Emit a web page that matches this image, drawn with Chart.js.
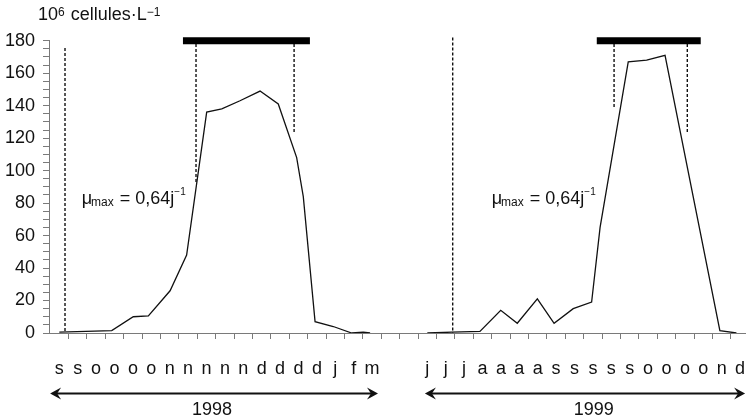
<!DOCTYPE html>
<html lang="fr">
<head>
<meta charset="UTF-8">
<title>Densité cellulaire 1998 - 1999</title>
<style>
  html, body { margin: 0; padding: 0; background: #fff; }
  canvas { display: block; }
</style>
</head>
<body>
<canvas id="chart" width="746" height="419"></canvas>
<script src="https://cdn.jsdelivr.net/npm/chart.js"></script>
<script>
const family = "'Liberation Sans', Arial, sans-serif";
const ink = '#111111';
const axisGrey = '#7a7a7a';

// x is measured in "letter" units along the bottom axis (one unit per month letter)
const months1998 = ['s','s','o','o','o','o','n','n','n','n','n','d','d','d','d','j','f','m'];
const monthPos1998 = [0, 1, 2, 3, 4, 5, 6, 7, 8, 9, 10, 11, 12, 13, 14, 15, 16, 17];
const months1999 = ['j','j','j','a','a','a','a','s','s','s','s','s','o','o','o','o','n','d'];
const monthPos1999 = [20, 21, 22, 23, 24, 25, 26, 27, 28, 29, 30, 31, 32, 33, 34, 35, 36, 37];

// cell counts (10^6 cells per litre)
const weeks1998 = [0, 1.45, 2.85, 4.02, 4.84, 6.02, 6.92, 8.01, 8.83, 9.82, 10.91, 11.9, 12.9, 13.26, 13.9, 14.89, 15.89, 16.52, 16.89];
const cells1998 = [0.5, 1, 1.5, 10, 10.5, 26, 48, 136, 138, 143, 149, 141, 108, 84, 7, 4, 0, 0.5, 0];
const weeks1999 = [20, 21.33, 22.86, 23.99, 24.89, 25.98, 26.89, 27.93, 28.93, 29.39, 30.92, 31.92, 32.92, 35.9, 36.8];
const cells1999 = [0, 0.5, 1, 14, 6, 21, 6, 15, 19, 65, 167, 168, 171, 1.5, 0];

// thick bars (bloom period) drawn at the top
const bloomStart = [6.72, 29.21];
const bloomEnd = [13.62, 34.86];
const bloomLevel = 180;

// dashed verticals
const dashX = [0.31, 7.43, 12.76, 21.38, 30.15, 34.13];
const dashTop = [175.5, 178, 178, 182, 178, 178];
const dashBottom = [1, 93, 123, 0, 139, 123];

// growth rate labels
const muX = [1.22, 23.5];
const muY = [79.3, 79.3];

// years under the axis
const years = ['1998', '1999'];
const yearCenter = [8.3, 29.05];
const arrowFrom = [-0.5, 19.87];
const arrowTo = [17.32, 37.27];

const yTicks = [];
for (let v = 0; v <= 180; v += 5) yTicks.push(v);
const tickMarks = [];
for (let v = 0.5; v < 37; v += 1) tickMarks.push(v);

const xMin = -0.56;
const xMax = 37.32;

function pts(xs, ys) {
    return xs.map((x, i) => ({ x: x, y: ys[i] }));
}

const datasets = [
    { data: pts(weeks1998, cells1998), borderColor: ink, borderWidth: 1.3 },
    { data: pts(weeks1999, cells1999), borderColor: ink, borderWidth: 1.3 }
];
bloomStart.forEach((s, i) => {
    datasets.push({
        data: [{ x: s, y: bloomLevel }, { x: bloomEnd[i], y: bloomLevel }],
        borderColor: '#000', borderWidth: 7, borderCapStyle: 'butt', clip: false
    });
});
dashX.forEach((x, i) => {
    datasets.push({
        data: [{ x: x, y: dashTop[i] }, { x: x, y: dashBottom[i] }],
        borderColor: ink, borderWidth: 1.4, borderDash: [3, 2], clip: false
    });
});

// draw a run of text pieces (sub/superscripts) starting at x, on baseline y
function drawRich(ctx, x, y, parts) {
    parts.forEach(p => {
        ctx.font = p.size + 'px ' + family;
        ctx.fillText(p.t, x, y + (p.dy || 0));
        x += ctx.measureText(p.t).width + (p.gap || 0);
    });
}

const notes = {
    id: 'notes',
    afterDraw(chart) {
        const { ctx, scales: { x, y }, chartArea } = chart;
        ctx.save();
        ctx.fillStyle = ink;
        ctx.strokeStyle = ink;
        ctx.textBaseline = 'alphabetic';
        ctx.textAlign = 'left';

        // unit label above the y axis
        drawRich(ctx, chartArea.left - 11, 20, [
            { t: '10', size: 18 },
            { t: '6', size: 12, dy: -4, gap: 1 },
            { t: ' cellules·L', size: 18 },
            { t: '−1', size: 12, dy: -4 }
        ]);

        // µmax labels
        muX.forEach((m, i) => {
            drawRich(ctx, x.getPixelForValue(m), y.getPixelForValue(muY[i]), [
                { t: 'μ', size: 18, gap: -1 },
                { t: 'max', size: 12, dy: 2, gap: 1 },
                { t: ' = 0,64j', size: 18 },
                { t: '−1', size: 10, dy: -9 }
            ]);
        });

        // year arrows
        const ay = chartArea.bottom + 60.6;
        ctx.lineWidth = 2;
        years.forEach((yr, i) => {
            const x0 = x.getPixelForValue(arrowFrom[i]);
            const x1 = x.getPixelForValue(arrowTo[i]);
            ctx.beginPath();
            ctx.moveTo(x0 + 6, ay);
            ctx.lineTo(x1 - 6, ay);
            ctx.stroke();
            [[x0, 1], [x1, -1]].forEach(([tip, dir]) => {
                ctx.beginPath();
                ctx.moveTo(tip, ay);
                ctx.lineTo(tip + dir * 11, ay - 6);
                ctx.lineTo(tip + dir * 7, ay);
                ctx.lineTo(tip + dir * 11, ay + 6);
                ctx.closePath();
                ctx.fill();
            });
            ctx.font = '18px ' + family;
            ctx.textAlign = 'center';
            ctx.fillText(yr, x.getPixelForValue(yearCenter[i]), chartArea.bottom + 82);
            ctx.textAlign = 'left';
        });
        ctx.restore();
    }
};

const allMonths = months1998.concat(months1999);
const allMonthPos = monthPos1998.concat(monthPos1999);

new Chart(document.getElementById('chart'), {
    type: 'line',
    data: { datasets: datasets },
    options: {
        responsive: false,
        animation: false,
        layout: { padding: { left: 5, top: 40.7, right: 0, bottom: 0 } },
        elements: {
            point: { radius: 0 },
            line: { tension: 0, fill: false }
        },
        plugins: {
            legend: { display: false },
            tooltip: { enabled: false },
            title: { display: false }
        },
        scales: {
            x: {
                type: 'linear', min: xMin, max: xMax, position: 'bottom', weight: 0,
                afterBuildTicks: s => { s.ticks = tickMarks.map(v => ({ value: v })); },
                ticks: { display: false, autoSkip: false },
                grid: { drawOnChartArea: false, tickLength: 6, color: axisGrey },
                border: { color: axisGrey, width: 1 }
            },
            x2: {
                type: 'linear', min: xMin, max: xMax, position: 'bottom', weight: 1,
                afterBuildTicks: s => { s.ticks = allMonthPos.map(v => ({ value: v })); },
                ticks: {
                    callback: (v, i) => allMonths[i],
                    autoSkip: false, maxRotation: 0, padding: 19,
                    color: ink, font: { size: 18, family: family }
                },
                grid: { display: false, drawTicks: false },
                border: { display: false },
                afterFit: s => { s.height = 80; s.paddingLeft = 0; s.paddingRight = 0; }
            },
            y: {
                min: 0, max: 180,
                afterBuildTicks: s => { s.ticks = yTicks.map(v => ({ value: v })); },
                ticks: {
                    callback: v => (v % 20 === 0 ? v : ''),
                    autoSkip: false,
                    padding: 8, color: ink, font: { size: 18, family: family }
                },
                grid: { drawOnChartArea: false, tickLength: 6, color: axisGrey },
                border: { color: axisGrey, width: 1 },
                afterFit: s => { s.width = 44; s.paddingTop = 0; s.paddingBottom = 0; }
            }
        }
    },
    plugins: [notes]
});
</script>
</body>
</html>
